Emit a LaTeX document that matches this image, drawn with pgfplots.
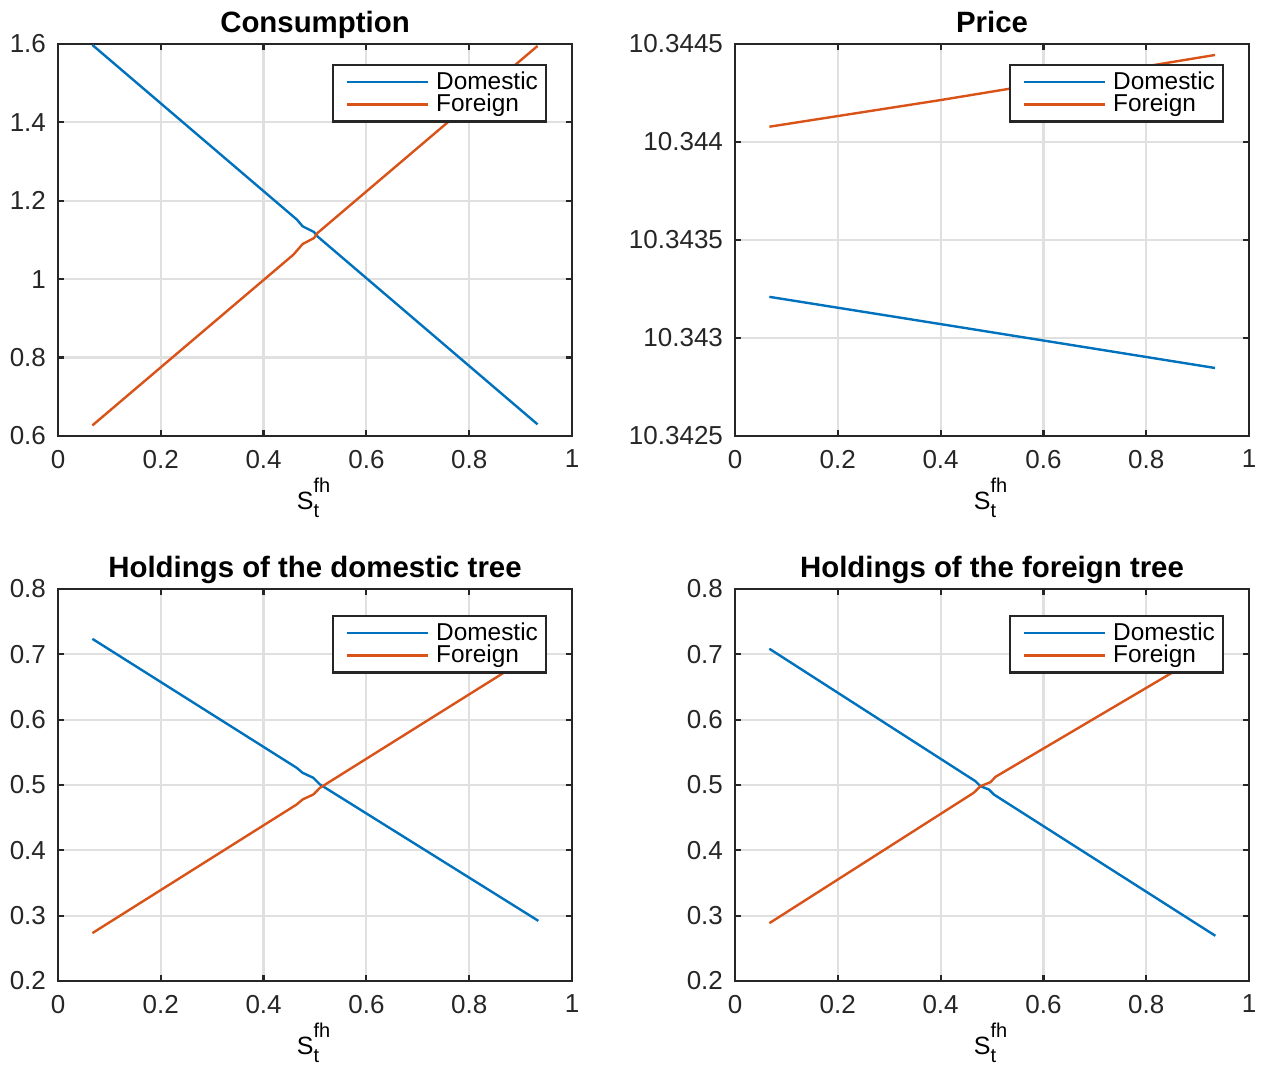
\documentclass[border=0pt]{standalone}
\usepackage{pgfplots}
\pgfplotsset{compat=1.18}
\usepackage{fontspec}
\setmainfont{Liberation Sans}
\definecolor{mblue}{rgb}{0,0.447,0.741}
\definecolor{morange}{rgb}{0.85,0.325,0.098}
\newcommand{\Sfh}{\fontsize{12.5}{13}\selectfont S\rlap{\raisebox{8.5pt}{\fontsize{10}{10}\selectfont fh}}\raisebox{-4pt}{\fontsize{10}{10}\selectfont t}\hphantom{h}}
\pgfplotsset{
  mystyle/.style={
    scale only axis, width=257pt, height=196pt,
    xmin=0, xmax=1, xtick={0,0.2,0.4,0.6,0.8,1},
    grid=major, grid style={line width=1.1pt, color=black!12},
    axis line style={line width=1.1pt, color=black!85},
    every tick/.style={line width=1.1pt, color=black!85},
    major tick length=3pt, tick align=inside,
    ticklabel style={font=\fontsize{13}{13}\selectfont, color=black!85},
    xticklabel style={yshift=-3.5pt},
    yticklabel style={xshift=-2.5pt},
    /pgf/number format/assume math mode=true,
    title style={font=\bfseries\fontsize{14.7}{15}\selectfont, at={(0.5,1)}, anchor=base, yshift=-0.4pt},
    xlabel={\Sfh},
    xlabel style={yshift=2pt},
    legend style={at={(1,1)}, anchor=north east, xshift=-12.5pt, yshift=-10pt,
      draw=black!85, line width=1.1pt, fill=white, font=\fontsize{12.2}{12.2}\selectfont,
      inner xsep=2pt, inner ysep=1.25pt, row sep=-3pt},
    legend cell align=left,
    legend image code/.code={\path (0pt,0pt) (46.5pt,0pt); \draw[#1, line width=1.2pt] (4.5pt,0pt) -- (45pt,0pt);},
    every axis plot/.append style={line width=1.2pt, mark=none},
  }
}
\begin{document}
\begin{tikzpicture}
% Consumption
\begin{axis}[mystyle, at={(0,0)}, anchor=north west, title={Consumption},
  ymin=0.6, ymax=1.6, ytick={0.6,0.8,1,1.2,1.4,1.6}]
\addplot[mblue] coordinates {(0.0669,1.5975) (0.465,1.1518) (0.476,1.1348) (0.498,1.1204) (0.505,1.109) (0.933,0.6297)};
\addplot[morange] coordinates {(0.0669,0.627) (0.458,1.0626) (0.476,1.0898) (0.498,1.105) (0.505,1.118) (0.933,1.595)};
\legend{Domestic, Foreign}
\end{axis}
% Price
\begin{axis}[mystyle, at={(338.5pt,0)}, anchor=north west, title={Price},
  ymin=10.3425, ymax=10.3445, ytick={10.3425,10.343,10.3435,10.344,10.3445},
  yticklabels={10.3425,10.343,10.3435,10.344,10.3445}]
\addplot[mblue] coordinates {(0.0669,10.34321) (0.4,10.343071) (0.934,10.342847)};
\addplot[morange] coordinates {(0.0669,10.344078) (0.4,10.344214) (0.934,10.344444)};
\legend{Domestic, Foreign}
\end{axis}
% Holdings domestic
\begin{axis}[mystyle, at={(0,-272.5pt)}, anchor=north west, title={Holdings of the domestic tree},
  ymin=0.2, ymax=0.8, ytick={0.2,0.3,0.4,0.5,0.6,0.7,0.8}, legend style={yshift=-3pt}]
\addplot[mblue] coordinates {(0.0669,0.7237) (0.4644,0.5263) (0.476,0.5186) (0.4968,0.5110) (0.5097,0.5008) (0.9345,0.2921)};
\addplot[morange] coordinates {(0.0669,0.2733) (0.4644,0.4702) (0.476,0.4779) (0.4968,0.4855) (0.5097,0.4957) (0.9345,0.705)};
\legend{Domestic, Foreign}
\end{axis}
% Holdings foreign
\begin{axis}[mystyle, at={(338.5pt,-272.5pt)}, anchor=north west, title={Holdings of the foreign tree},
  ymin=0.2, ymax=0.8, ytick={0.2,0.3,0.4,0.5,0.6,0.7,0.8}, legend style={yshift=-3pt}]
\addplot[mblue] coordinates {(0.0669,0.7085) (0.4678,0.5058) (0.4776,0.4982) (0.4938,0.4931) (0.5035,0.4855) (0.9345,0.2692)};
\addplot[morange] coordinates {(0.0669,0.2885) (0.4645,0.4881) (0.4776,0.4982) (0.497,0.5043) (0.5068,0.5125) (0.9345,0.711)};
\legend{Domestic, Foreign}
\end{axis}
\pgfresetboundingbox
\path (-29pt,22pt) rectangle (606.5pt,-513pt);
\end{tikzpicture}
\end{document}
